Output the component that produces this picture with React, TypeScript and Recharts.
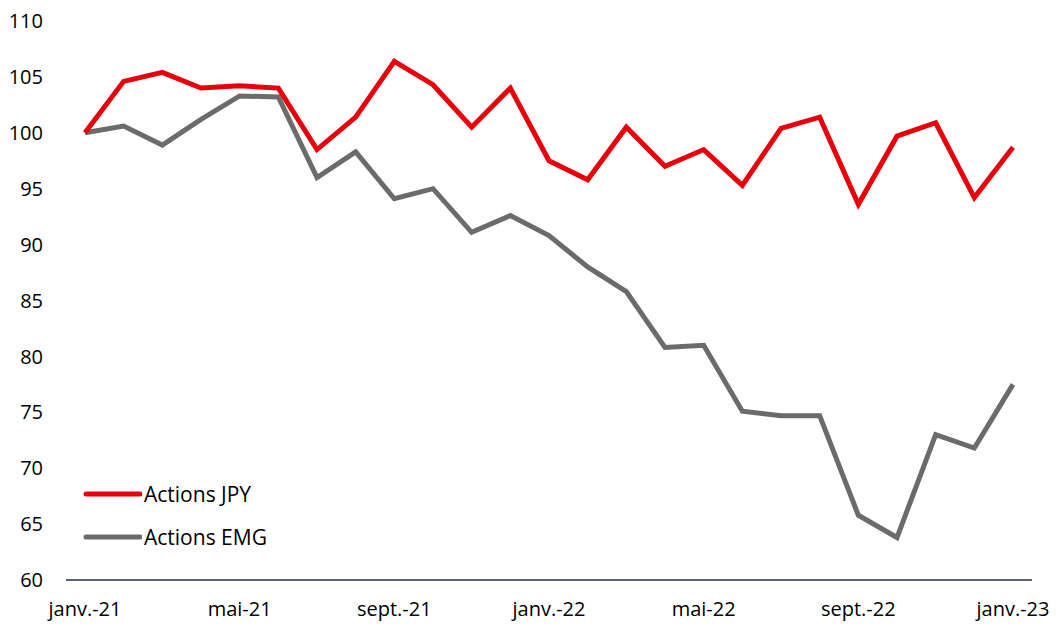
import React from 'react';
import { LineChart, Line, XAxis, YAxis, Legend } from 'recharts';

const months = [
  'janv.-21', 'févr.-21', 'mars-21', 'avr.-21', 'mai-21', 'juin-21', 'juil.-21', 'août-21',
  'sept.-21', 'oct.-21', 'nov.-21', 'déc.-21', 'janv.-22', 'févr.-22', 'mars-22', 'avr.-22',
  'mai-22', 'juin-22', 'juil.-22', 'août-22', 'sept.-22', 'oct.-22', 'nov.-22', 'déc.-22', 'janv.-23',
];

const actionsJpy = [
  100, 104.6, 105.4, 104.0, 104.2, 104.0, 98.5, 101.4, 106.4, 104.3, 100.5, 104.0,
  97.5, 95.8, 100.5, 97.0, 98.5, 95.3, 100.4, 101.4, 93.6, 99.7, 100.9, 94.2, 98.7,
];

const actionsEmg = [
  100, 100.6, 98.9, 101.2, 103.3, 103.2, 96.0, 98.3, 94.1, 95.0, 91.1, 92.6,
  90.8, 88.0, 85.8, 80.8, 81.0, 75.1, 74.7, 74.7, 65.8, 63.8, 73.0, 71.8, 77.5,
];

const yTicks = [60, 65, 70, 75, 80, 85, 90, 95, 100, 105, 110];

const data = months.map((m, i) => ({ month: m, jpy: actionsJpy[i], emg: actionsEmg[i] }));

const FONT = '"Open Sans", sans-serif';

const legendItems = [
  { label: 'Actions JPY', color: '#e8000b' },
  { label: 'Actions EMG', color: '#6b6b6b' },
];

function MyLegend() {
  return (
    <div style={{ fontFamily: FONT, fontSize: 21, color: '#000' }}>
      {legendItems.map((it) => (
        <div key={it.label} style={{ display: 'flex', alignItems: 'center', height: 43 }}>
          <svg width={59} height={10}>
            <line x1={3} y1={5} x2={57} y2={5} stroke={it.color} strokeWidth={5} strokeLinecap="round" />
          </svg>
          <span style={{ marginLeft: 2 }}>{it.label}</span>
        </div>
      ))}
    </div>
  );
}

export default function App() {
  return (
    <div style={{ position: 'absolute', left: 0, top: 0 }}>
      <LineChart width={1059} height={626} data={data}
        margin={{ top: 21, right: 27, left: 0, bottom: 0 }}>
        <XAxis dataKey="month" interval={3} tickLine={false} tickSize={0} tickMargin={22}
          axisLine={{ stroke: '#1f2d54', strokeWidth: 1.5 }}
          padding={{ left: 19, right: 19 }} height={46}
          tick={{ fontFamily: FONT, fontSize: 20, fill: '#000' }} />
        <YAxis domain={[60, 110]} ticks={yTicks} width={66} axisLine={false} tickLine={false}
          tickSize={0} tickMargin={23} interval={0}
          tick={{ fontFamily: FONT, fontSize: 20, fill: '#000' }} />
        <Legend layout="horizontal" verticalAlign="middle" align="center"
          wrapperStyle={{ left: 83, top: 472, width: 300 }} content={<MyLegend />} />
        <Line dataKey="emg" stroke="#6b6b6b" strokeWidth={5} dot={false} isAnimationActive={false} />
        <Line dataKey="jpy" stroke="#e8000b" strokeWidth={5} dot={false} isAnimationActive={false} />
      </LineChart>
    </div>
  );
}
